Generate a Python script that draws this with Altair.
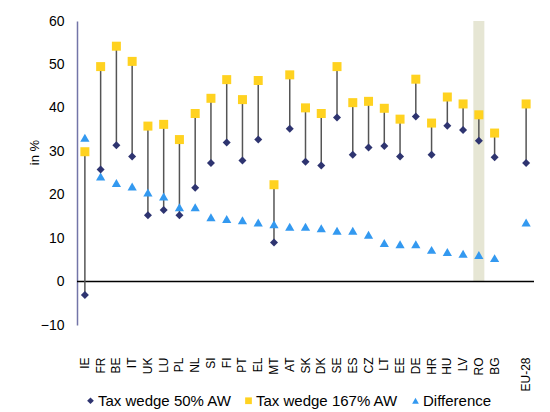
import altair as alt
import pandas as pd

countries = ["IE", "FR", "BE", "IT", "UK", "LU", "PL", "NL", "SI", "FI", "PT", "EL", "MT", "AT",
             "SK", "DK", "SE", "ES", "CZ", "LT", "EE", "DE", "HR", "HU", "LV", "RO", "BG", "EU-28"]
tw50 = [-3.1, 25.8, 31.4, 28.8, 15.3, 16.5, 15.3, 21.6, 27.3, 32.0, 27.9, 32.7, 9.0, 35.2,
        27.6, 26.7, 37.8, 29.2, 30.9, 31.2, 28.8, 38.0, 29.2, 35.9, 34.9, 32.4, 28.6, 27.3]
tw167 = [29.9, 49.5, 54.2, 50.7, 35.8, 36.2, 32.7, 38.7, 42.2, 46.5, 41.9, 46.3, 22.3, 47.6,
         40.0, 38.7, 49.5, 41.2, 41.5, 39.9, 37.4, 46.6, 36.5, 42.5, 40.9, 38.4, 34.2, 40.9]
diff = [33.1, 24.2, 22.7, 21.9, 20.5, 19.6, 17.1, 17.1, 14.8, 14.4, 14.1, 13.6, 13.2, 12.6,
        12.6, 12.3, 11.7, 11.7, 10.8, 8.9, 8.6, 8.6, 7.3, 6.8, 6.4, 6.1, 5.4, 13.6]
series = ["Tax wedge 50% AW", "Tax wedge 167% AW", "Difference"]
colors = ["#2E3470", "#FFD220", "#3399F0"]
shapes = ["diamond", "square", "triangle-up"]
highlight = ["RO"]
y_ticks = [-10, 0, 10, 20, 30, 40, 50, 60]

x_domain = countries[:-1] + [" "] + countries[-1:]

df = pd.DataFrame({"country": countries, "tw50": tw50, "tw167": tw167, "diff": diff})
hl = pd.DataFrame({"country": highlight, "lo": [0] * len(highlight), "hi": [60] * len(highlight)})
zero = pd.DataFrame({"v": [0]})

FONT = "Liberation Sans"

x_enc = alt.X("country:N", scale=alt.Scale(domain=x_domain, paddingInner=0, paddingOuter=0),
              axis=alt.Axis(title=None, labelAngle=270, domain=False, ticks=False, tickSize=0,
                            labelPadding=32, labelFontSize=12, labelFont=FONT, labelColor="#000"))
y_scale = alt.Scale(domain=[-10, 60], nice=False, zero=False)
y_axis = alt.Axis(title="in %", values=y_ticks, grid=False, ticks=False, tickSize=0,
                  domainColor="#7375A8", domainWidth=1.5, labelPadding=13, labelFontSize=14,
                  labelFont=FONT, labelColor="#000", titleFont=FONT, titleFontSize=13,
                  titleFontWeight="normal", titleColor="#000", titleAngle=270,
                  titleX=-43, titleY=131, titleAlign="center", titleBaseline="middle")

color_scale = alt.Scale(domain=series, range=colors)
shape_scale = alt.Scale(domain=series, range=shapes)
legend = alt.Legend(title=None, orient="none", direction="horizontal", legendX=6, legendY=372,
                    labelFont=FONT, labelFontSize=15, labelColor="#000", symbolSize=45,
                    symbolStrokeWidth=0, columnPadding=9, labelOffset=0, padding=0)

hl_layer = alt.Chart(hl).mark_bar(color="#E6E6D4", width=alt.RelativeBandSize(0.7)).encode(
    x=x_enc, y=alt.Y("lo:Q", scale=y_scale, axis=y_axis), y2="hi:Q")

zero_layer = alt.Chart(zero).mark_rule(color="#000", strokeWidth=1.5).encode(
    y=alt.Y("v:Q", scale=y_scale))

seg_layer = alt.Chart(df).mark_rule(color="#555555", strokeWidth=1.5).encode(
    x=x_enc, y=alt.Y("tw50:Q", scale=y_scale), y2="tw167:Q")


def pts(field, name, size):
    return alt.Chart(df).transform_calculate(s=f"'{name}'").mark_point(
        filled=True, opacity=1, size=size, strokeWidth=0).encode(
        x=x_enc,
        y=alt.Y(f"{field}:Q", scale=y_scale),
        color=alt.Color("s:N", scale=color_scale, legend=legend),
        shape=alt.Shape("s:N", scale=shape_scale, legend=legend),
    )


chart = alt.layer(
    hl_layer, zero_layer, seg_layer,
    pts("diff", series[2], 85),
    pts("tw167", series[1], 81),
    pts("tw50", series[0], 64),
).properties(
    width=457, height=304,
    autosize=alt.AutoSizeParams(type="none"),
    padding={"left": 69, "top": 13, "right": 8, "bottom": 92},
).configure_view(stroke=None).configure_axis(labelFont=FONT)

chart.save("out.html", embed_options={"renderer": "svg", "actions": False})
